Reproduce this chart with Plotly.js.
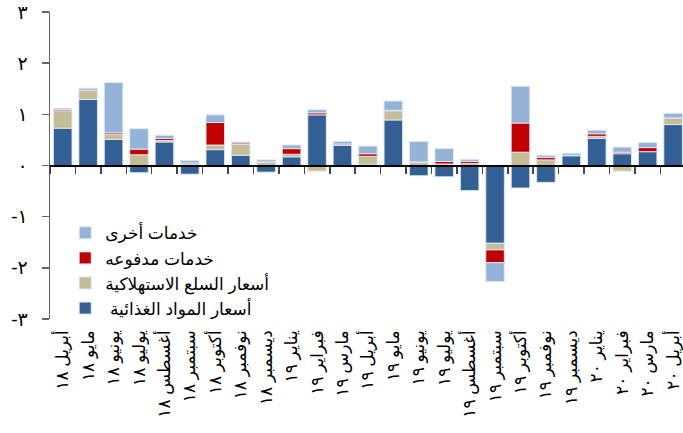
<!DOCTYPE html>
<html>
<head>
<meta charset="utf-8">
<script src="https://cdn.plot.ly/plotly-3.0.1.min.js"></script>
<style>html,body{margin:0;padding:0;background:#fff;overflow:hidden}#chart{width:683px;height:433px}</style>
</head>
<body>
<div id="chart"></div>
<script>
const months = ["أبريل ١٨","مايو ١٨","يونيو ١٨","يوليو ١٨","أغسطس ١٨","سبتمبر ١٨","أكتوبر ١٨","نوفمبر ١٨","ديسمبر ١٨",
  "يناير ١٩","فبراير ١٩","مارس ١٩","أبريل ١٩","مايو ١٩","يونيو ١٩","يوليو ١٩","أغسطس ١٩","سبتمبر ١٩","أكتوبر ١٩","نوفمبر ١٩","ديسمبر ١٩",
  "يناير ٢٠","فبراير ٢٠","مارس ٢٠","أبريل ٢٠"];
const food     = [0.73,1.29,0.51,-0.14,0.46,-0.17,0.31,0.20,-0.13,0.17,0.99,0.40,0.01,0.89,-0.20,-0.22,-0.49,-1.52,-0.44,-0.33,0.19,0.53,0.23,0.27,0.80];
const goods    = [0.34,0.18,0.10,0.21,0.03,0.03,0.09,0.21,0.06,0.05,-0.11,0.00,0.17,0.18,0.06,0.03,0.04,-0.13,0.26,0.11,-0.03,0.04,-0.11,-0.02,0.13];
const paid     = [0.03,0.00,0.03,0.11,0.04,0.02,0.44,0.03,0.01,0.11,0.04,0.02,0.05,0.01,0.01,0.05,0.04,-0.25,0.57,0.05,0.01,0.05,0.03,0.08,0.00];
const other    = [0.02,0.04,0.98,0.40,0.06,0.05,0.15,0.02,0.04,0.07,0.06,0.05,0.15,0.18,0.40,0.25,0.04,-0.37,0.72,0.04,0.04,0.07,0.10,0.10,0.09];
const seriesNames = ["\u00A0أسعار المواد الغذائية","أسعار السلع الاستهلاكية","خدمات مدفوعه","خدمات أخرى"];
const colors = ["#336094","#c4bd97","#c00000","#95b3d7"];
const yTickVals = [-3,-2,-1,0,1,2,3];
const yTickText = ["-٣","-٢","-١","٠","١","٢","٣"];

const fontFam = "Liberation Sans, DejaVu Sans, sans-serif";
const data = [food, goods, paid, other].map((v, i) => ({
  type: "bar", x: months, y: v, name: seriesNames[i],
  marker: {color: colors[i], line: {color: "rgba(225,233,243,0.9)", width: 1}},
  width: 0.73, hoverinfo: "skip"
}));

const layout = {
  width: 683, height: 433,
  margin: {l: 50, r: 0, t: 12, b: 114},
  paper_bgcolor: "#fff", plot_bgcolor: "#fff",
  barmode: "relative",
  showlegend: true,
  legend: {x: 0.024, y: 0.338, xanchor: "left", yanchor: "top", bgcolor: "rgba(0,0,0,0)",
           traceorder: "reversed",
           font: {family: fontFam, size: 17, color: "#000"}, tracegroupgap: 0},
  xaxis: {type: "category", anchor: "free", position: 0.5, range: [-0.5, 24.39],
          showline: true, linecolor: "#000", linewidth: 2,
          ticks: "outside", ticklen: 7, tickcolor: "#444", tickwidth: 1.5, tickson: "boundaries",
          tickangle: -90, ticklabelstandoff: 157,
          tickfont: {family: fontFam, size: 17, color: "#000"},
          showgrid: false, zeroline: false, fixedrange: true},
  yaxis: {range: [-3, 3], tickvals: yTickVals, ticktext: yTickText,
          showline: true, linecolor: "#666", linewidth: 1.5,
          ticks: "outside", ticklen: 7, tickcolor: "#666", tickwidth: 1.5,
          ticklabelstandoff: 10,
          tickfont: {family: fontFam, size: 19, color: "#000"},
          showgrid: false, zeroline: false, fixedrange: true}
};
Plotly.newPlot("chart", data, layout, {displayModeBar: false, staticPlot: true});
</script>
</body>
</html>
